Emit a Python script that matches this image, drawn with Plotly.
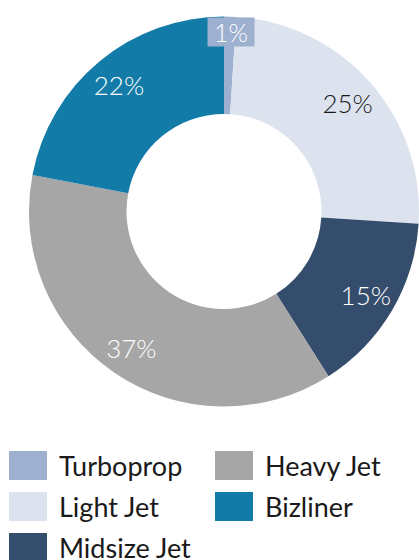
import plotly.graph_objects as go

# Fleet share by aircraft category
categories = ["Turboprop", "Light Jet", "Midsize Jet", "Heavy Jet", "Bizliner"]
shares = [1, 25, 15, 37, 22]
colors = ["#9db0cf", "#dde3ee", "#354d6d", "#a6a6a6", "#137ba8"]
label_colors = ["#ffffff", "#1a1a1a", "#ffffff", "#ffffff", "#ffffff"]

# Legend arrangement: two columns, filled top to bottom
legend_columns = [["Turboprop", "Light Jet", "Midsize Jet"], ["Heavy Jet", "Bizliner"]]

W, H = 419, 560
FONT = "Lato"

pie_domain_x = [29 / W, 1.0]
pie_domain_y = [(H - 407) / H, (H - 16) / H]

fig = go.Figure()

# Coloured donut ring
fig.add_trace(go.Pie(
    labels=categories,
    values=shares,
    sort=False,
    direction="clockwise",
    rotation=0,
    hole=0.5,
    marker=dict(colors=colors, line=dict(width=0)),
    textinfo="none",
    hoverinfo="label+percent",
    showlegend=False,
    domain=dict(x=pie_domain_x, y=pie_domain_y),
))

# Transparent outer ring carrying the percentage labels
texts = [f"{v}%" if v >= 5 else "" for v in shares]
fig.add_trace(go.Pie(
    labels=categories,
    values=shares,
    sort=False,
    direction="clockwise",
    rotation=0,
    hole=0.69,
    marker=dict(colors=["rgba(0,0,0,0)"] * len(shares), line=dict(width=0)),
    text=texts,
    textinfo="text",
    textposition="inside",
    insidetextorientation="horizontal",
    textfont=dict(family=FONT, size=26, color=label_colors, weight=300),
    hoverinfo="skip",
    showlegend=False,
    domain=dict(x=pie_domain_x, y=pie_domain_y),
))

# Small slice gets a boxed label at the top of the ring
small = [(c, v, col) for c, v, col in zip(categories, shares, colors) if v < 5]
annotations = []
for c, v, col in small:
    annotations.append(dict(
        x=231 / W, y=1 - 31.5 / H, xref="paper", yref="paper",
        text=f"{v}%", showarrow=False,
        font=dict(family=FONT, size=25, color="#ffffff", weight=300),
        bgcolor=col, borderpad=0, width=46, height=28,
        xanchor="center", yanchor="middle", valign="middle",
    ))

# Legend built from squares and text labels
shapes = []
color_of = dict(zip(categories, colors))
col_x = [9, 215]
row_y = [451, 492, 533]
sq_w, sq_h = 38, 29
for ci, col_items in enumerate(legend_columns):
    for ri, name in enumerate(col_items):
        x0 = col_x[ci]
        y0 = row_y[ri]
        shapes.append(dict(
            type="rect", xref="paper", yref="paper",
            x0=x0 / W, x1=(x0 + sq_w) / W,
            y0=1 - y0 / H, y1=1 - (y0 + sq_h) / H,
            fillcolor=color_of[name], line=dict(width=0),
        ))
        annotations.append(dict(
            x=(x0 + sq_w + 10) / W, y=1 - (y0 + sq_h / 2) / H,
            xref="paper", yref="paper", text=name, showarrow=False,
            font=dict(family=FONT, size=27, color="#1a1a1a"),
            xanchor="left", yanchor="middle",
        ))

fig.update_layout(
    width=W, height=H,
    margin=dict(l=0, r=0, t=0, b=0),
    paper_bgcolor="#ffffff",
    plot_bgcolor="#ffffff",
    showlegend=False,
    shapes=shapes,
    annotations=annotations,
)

fig.write_html("out.html")
